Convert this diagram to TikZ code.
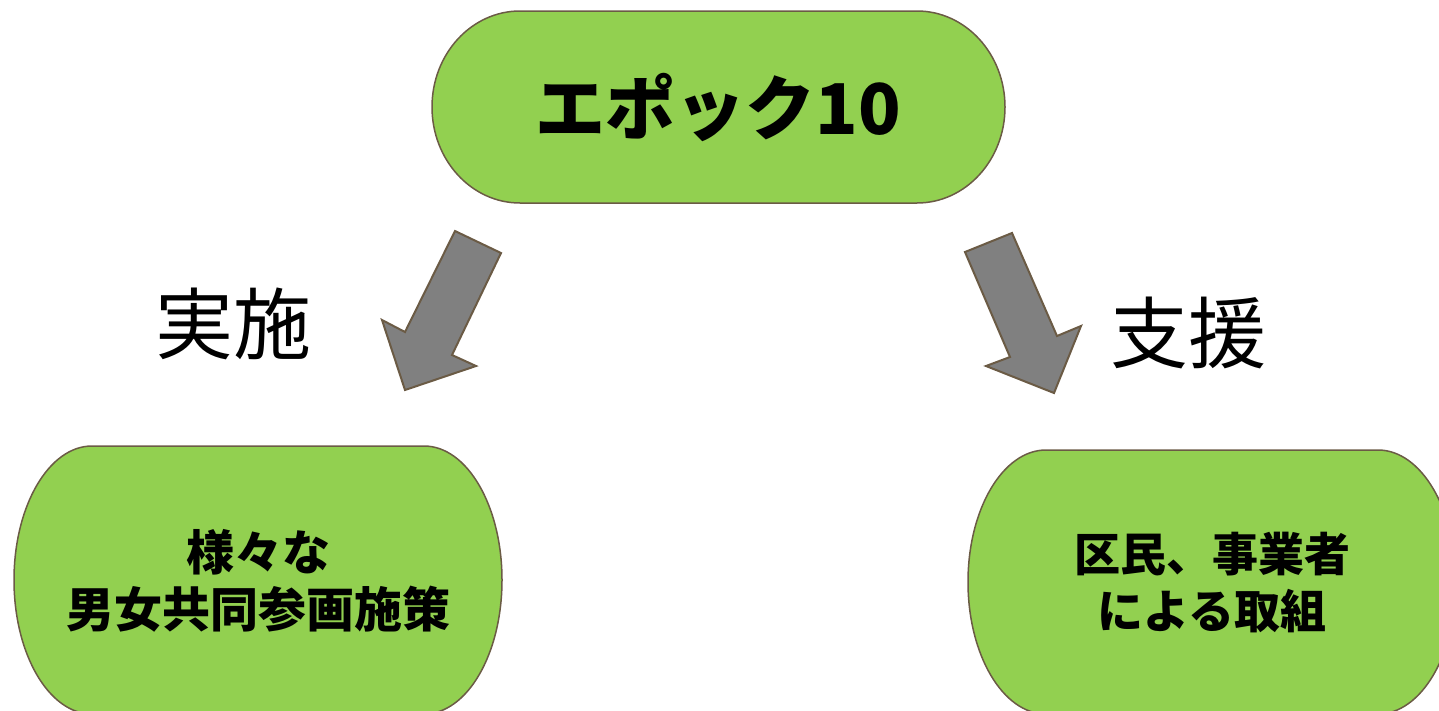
\documentclass[tikz,border=0pt]{standalone}
\usepackage{fontspec}
\setmainfont{Noto Sans CJK JP}
\definecolor{boxgreen}{HTML}{92D050}
\definecolor{edgebrown}{HTML}{6B5B45}
\definecolor{arrowgray}{HTML}{808080}
\tikzset{
  pill/.style={fill=boxgreen, draw=edgebrown, line width=1.5pt},
  blockarrow/.style={fill=arrowgray, draw=edgebrown, line width=2pt, line join=miter},
  boxtext/.style={align=center, font=\bfseries\fontsize{46}{57}\selectfont, inner sep=0pt},
  toptext/.style={font=\bfseries\fontsize{70}{80}\selectfont, inner sep=0pt},
  labeltext/.style={font=\fontsize{78}{86}\selectfont, inner sep=0pt}
}
\begin{document}
\begin{tikzpicture}[x=1pt,y=1pt]
\useasboundingbox (0,0) rectangle (1439,-710);
\begin{scope}
\clip (0,0) rectangle (1439,-710);
% top box
\draw[pill] (520,-11) -- (917,-11) arc[start angle=90,end angle=-90,x radius=88,y radius=96]
  -- (520,-203) arc[start angle=270,end angle=90,x radius=88,y radius=96] -- cycle;
\node[toptext] (top) at (718,-108) {エポック10};
% left box
\draw[pill] (92,-446) -- (424,-446) arc[start angle=90,end angle=-90,x radius=78,y radius=134]
  -- (92,-714) arc[start angle=270,end angle=90,x radius=78,y radius=134] -- cycle;
\node[boxtext, font=\bfseries\fontsize{48}{57}\selectfont] (left) at (258,-581) {様々な\\男女共同参画施策};
% right box
\draw[pill] (1046,-450) -- (1378,-450) arc[start angle=90,end angle=-90,x radius=78,y radius=132]
  -- (1046,-714) arc[start angle=270,end angle=90,x radius=78,y radius=132] -- cycle;
\node[boxtext] (right) at (1212,-583) {区民、事業者\\による取組};
\end{scope}
% arrows
\draw[blockarrow] (455,-231) -- (501,-253) -- (452,-355) -- (476,-366) -- (405,-390) -- (382,-320) -- (405,-332) -- cycle;
\draw[blockarrow] (965,-252) -- (1012,-233) -- (1057,-336) -- (1081,-326) -- (1054,-393) -- (986,-366) -- (1010,-357) -- cycle;
% labels
\node[labeltext] (lab1) at (233,-324) {実施};
\node[labeltext] (lab2) at (1188,-333) {支援};
\end{tikzpicture}
\end{document}
